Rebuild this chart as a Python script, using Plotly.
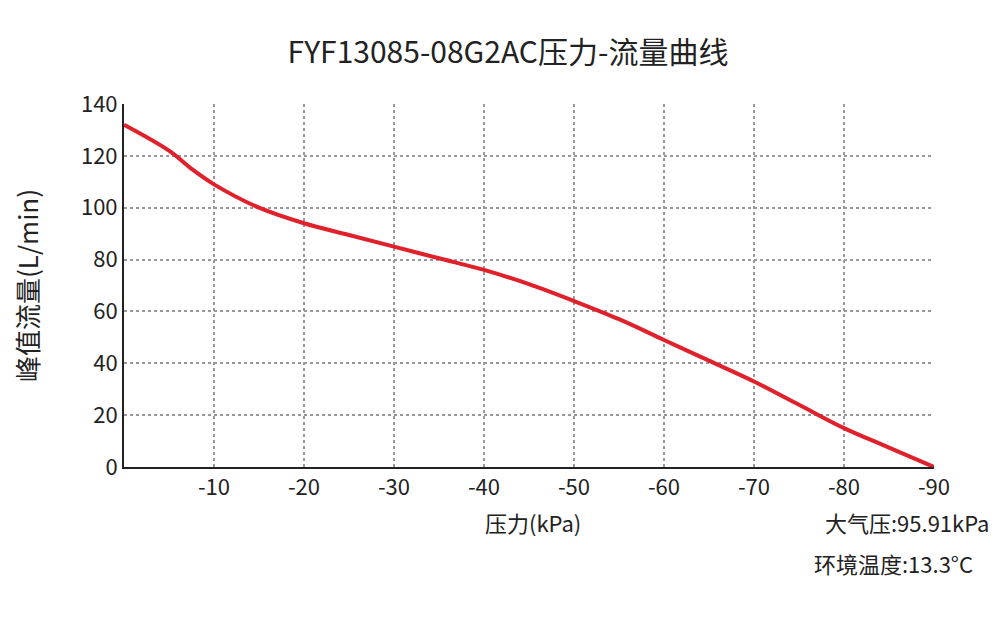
import plotly.graph_objects as go

pressure = [0, -5, -7.5, -10, -15, -20, -25, -30, -35, -40, -45, -50, -55, -60, -65, -70, -75, -80, -85, -90]
flow = [132, 122, 115, 109, 100, 94, 89.5, 85, 80.5, 76, 70.5, 64, 57, 49, 41, 33, 24, 15, 7.5, 0]

x_ticks = [-10, -20, -30, -40, -50, -60, -70, -80, -90]
y_ticks = [0, 20, 40, 60, 80, 100, 120, 140]

font = "Noto Sans CJK SC"

fig = go.Figure(go.Scatter(
    x=pressure, y=flow, mode="lines",
    line=dict(color="#e0202a", width=4, shape="spline"),
))

fig.update_layout(
    width=1000, height=625,
    paper_bgcolor="white", plot_bgcolor="white",
    font=dict(family=font, size=22, color="#222"),
    margin=dict(l=116, r=74, t=96, b=166),
    showlegend=False,
    title=dict(text="FYF13085-08G2AC压力-流量曲线", x=0.5, xanchor="center",
               y=0.945, font=dict(size=30, color="#222")),
)
fig.update_xaxes(
    range=[0, -90], tickvals=x_ticks, ticktext=[str(v) for v in x_ticks],
    showline=True, linecolor="#222", linewidth=2,
    showgrid=True, gridcolor="#999", griddash="dot", gridwidth=1.5,
    zeroline=False, ticks="", ticklen=0,
)
fig.update_yaxes(
    range=[0, 140], tickvals=y_ticks,
    showline=True, linecolor="#222", linewidth=2,
    showgrid=True, gridcolor="#999", griddash="dot", gridwidth=1.5,
    zeroline=False, ticks="",
    title=dict(text="峰值流量(L/min)", standoff=40),
)
fig.add_annotation(text="压力(kPa)", xref="paper", yref="paper", x=0.505, y=-0.2,
                   showarrow=False, xanchor="center")
fig.add_annotation(text="大气压:95.91kPa", xref="paper", yref="paper", x=1.07, y=-0.2,
                   showarrow=False, xanchor="right")
fig.add_annotation(text="环境温度:13.3°C", xref="paper", yref="paper", x=1.05, y=-0.315,
                   showarrow=False, xanchor="right")

fig.write_html("out.html")
